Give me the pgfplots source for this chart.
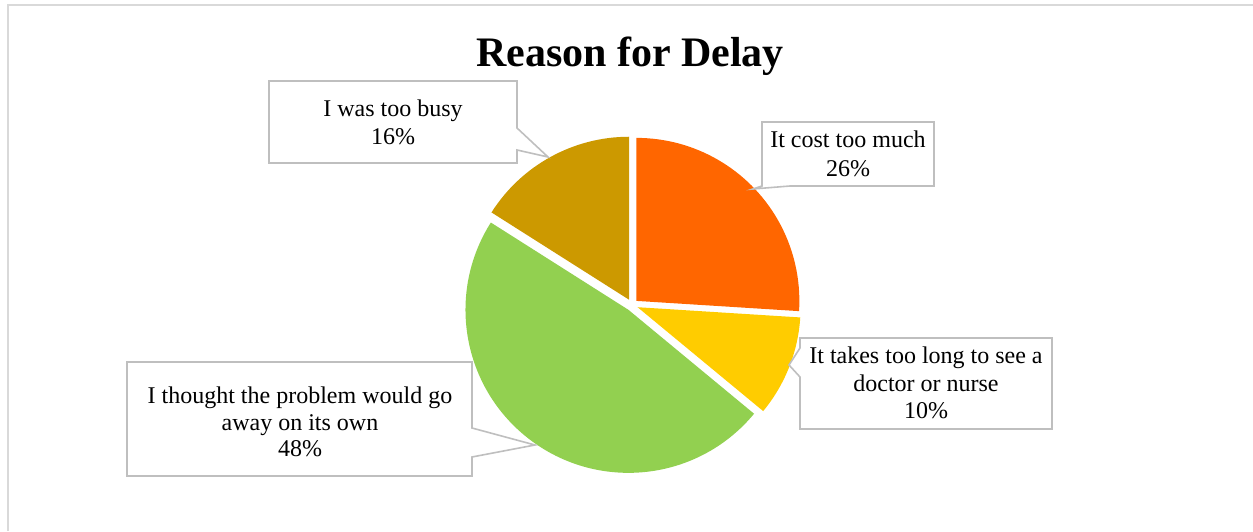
\documentclass[border=0pt]{standalone}
\usepackage{pgfplots}
\pgfplotsset{compat=1.18}
\usepackage{pgfplotstable}
\usepackage{fontspec}
\setmainfont{Liberation Serif}
\usetikzlibrary{calc}
\definecolor{cCost}{HTML}{FF6600}
\definecolor{cLong}{HTML}{FFCC00}
\definecolor{cThought}{HTML}{92D050}
\definecolor{cBusy}{HTML}{CC9900}
\definecolor{boxgray}{HTML}{BFBFBF}
\definecolor{framegray}{HTML}{D9D9D9}

\pgfplotstableread{
slice value
cost 26
long 10
thought 48
busy 16
}\piedata

\pgfplotstablegetelem{0}{value}\of\piedata \let\vA\pgfplotsretval
\pgfplotstablegetelem{1}{value}\of\piedata \let\vB\pgfplotsretval
\pgfplotstablegetelem{2}{value}\of\piedata \let\vC\pgfplotsretval
\pgfplotstablegetelem{3}{value}\of\piedata \let\vD\pgfplotsretval
\pgfmathsetmacro\tot{\vA+\vB+\vC+\vD}
\pgfmathsetmacro\aA{90}
\pgfmathsetmacro\aB{\aA-\vA/\tot*360}
\pgfmathsetmacro\aC{\aB-\vB/\tot*360}
\pgfmathsetmacro\aD{\aC-\vC/\tot*360}
\pgfmathsetmacro\aE{\aD-\vD/\tot*360}
\pgfmathsetmacro\mA{(\aA+\aB)/2}
\pgfmathsetmacro\mB{(\aB+\aC)/2}
\pgfmathsetmacro\mC{(\aC+\aD)/2}
\pgfmathsetmacro\mD{(\aD+\aE)/2}
\def\R{163pt}
\def\off{6pt}

\begin{document}
\begin{tikzpicture}
\useasboundingbox (0,0) rectangle (1253pt,531pt);
\begin{axis}[
  x=1pt, y=1pt,
  xmin=0, xmax=1253, ymin=0, ymax=531,
  at={(0,0)}, anchor=origin,
  hide axis, clip=false,
]
% frame
\draw[framegray, line width=1.2pt] (axis cs:8,0) -- (axis cs:8,526) -- (axis cs:1253,526);
% slices
\fill[cCost] ($(axis cs:632,226)+(\mA:\off)$) -- ++(\aA:\R) arc[start angle=\aA, end angle=\aB, radius=\R] -- cycle;
\fill[cLong] ($(axis cs:632,226)+(\mB:\off)$) -- ++(\aB:\R) arc[start angle=\aB, end angle=\aC, radius=\R] -- cycle;
\fill[cThought] ($(axis cs:632,226)+(\mC:\off)$) -- ++(\aC:\R) arc[start angle=\aC, end angle=\aD, radius=\R] -- cycle;
\fill[cBusy] ($(axis cs:632,226)+(\mD:\off)$) -- ++(\aD:\R) arc[start angle=\aD, end angle=\aE, radius=\R] -- cycle;
% callouts
\draw[boxgray, line width=1.6pt, fill=white, line join=miter]
  (axis cs:269,450) -- (axis cs:517,450) -- (axis cs:517,403) -- (axis cs:548,374)
  -- (axis cs:517,381) -- (axis cs:517,368) -- (axis cs:269,368) -- cycle;
\draw[boxgray, line width=1.6pt, fill=white, line join=miter]
  (axis cs:762,409) -- (axis cs:934,409) -- (axis cs:934,345) -- (axis cs:790,345)
  -- (axis cs:753,342) -- (axis cs:762,345) -- cycle;
\draw[boxgray, line width=1.6pt, fill=white, line join=miter]
  (axis cs:800,193) -- (axis cs:1052,193) -- (axis cs:1052,102) -- (axis cs:800,102)
  -- (axis cs:800,154) -- (axis cs:789,166) -- (axis cs:800,183) -- cycle;
\draw[boxgray, line width=1.6pt, fill=white, line join=miter]
  (axis cs:127,169) -- (axis cs:472,169) -- (axis cs:472,103) -- (axis cs:535,86)
  -- (axis cs:472,74) -- (axis cs:472,55) -- (axis cs:127,55) -- cycle;
% texts
\tikzset{lab/.style={anchor=base, inner sep=0pt, font=\fontsize{24}{27.5}\selectfont}}
\node[anchor=base, inner sep=0pt, font=\fontsize{42}{48}\selectfont\bfseries] at (axis cs:630,464) {Reason for Delay};
\node[lab] at (axis cs:393,414) {I was too busy};
\node[lab] at (axis cs:393,386) {16\%};
\node[lab] at (axis cs:848,383) {It cost too much};
\node[lab] at (axis cs:848,354) {26\%};
\node[lab] at (axis cs:926,168) {It takes too long to see a};
\node[lab] at (axis cs:926,140) {doctor or nurse};
\node[lab] at (axis cs:926,113) {10\%};
\node[lab] at (axis cs:300,128) {I thought the problem would go};
\node[lab] at (axis cs:300,101) {away on its own};
\node[lab] at (axis cs:300,75) {48\%};
\end{axis}
\end{tikzpicture}
\end{document}
